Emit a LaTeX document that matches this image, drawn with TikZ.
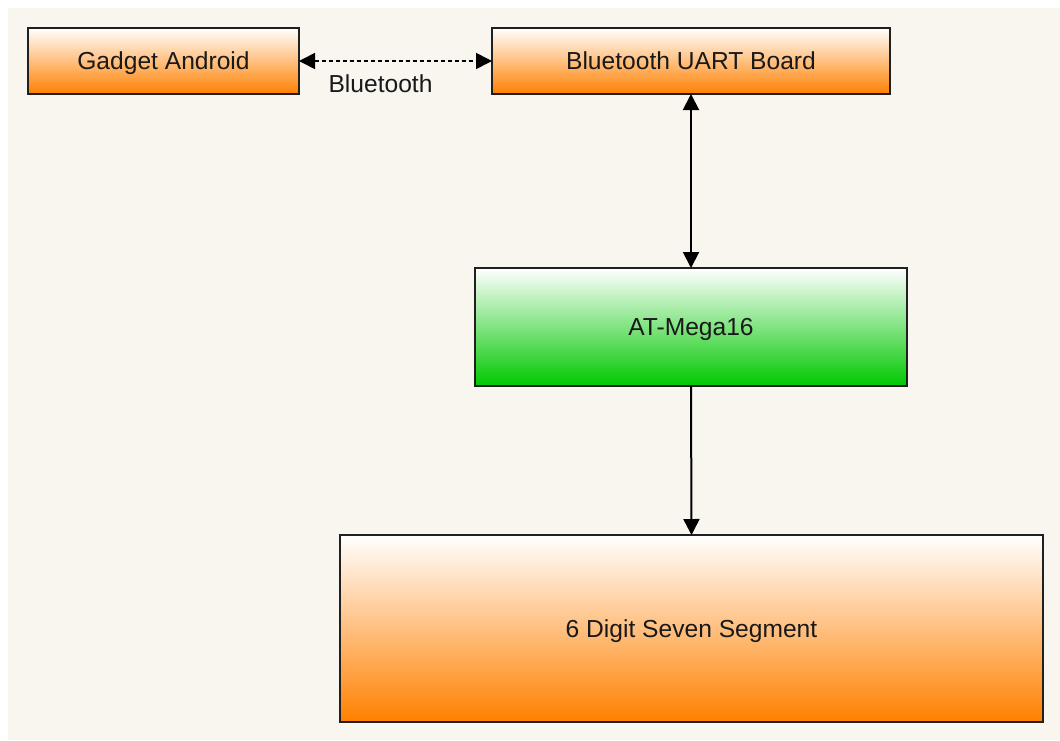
\documentclass[tikz,border=0pt]{standalone}
\usepackage{fontspec}
\setmainfont{Liberation Sans}
\usetikzlibrary{
arrows.meta,
positioning,
shapes
}
\definecolor{bgcream}{RGB}{249,246,240}
\definecolor{boxorange}{RGB}{255,128,0}
\definecolor{boxgreen}{RGB}{0,200,0}
\definecolor{boxline}{RGB}{32,32,32}
\tikzset{>={Triangle[width=8pt,length=8pt]}}
\tikzset{
	block/.style={draw=boxline,line width=1pt,inner sep=0,outer sep=0,text=black!90,
		text height=0.88em,text depth=0pt,font=\fontsize{12.3}{14}\selectfont},
	orangeblock/.style={block,top color=white,bottom color=boxorange},
	greenblock/.style={block,top color=white,bottom color=boxgreen}
}

\begin{document}
\begin{tikzpicture}[x=0.5pt,y=-0.5pt]
		\useasboundingbox (0,0) rectangle (1060,740);
		\fill[white] (0,0) rectangle (1060,740);
		\fill[bgcream] (8,8) rectangle (1060,740);

		\node[orangeblock,minimum width=135.5pt,minimum height=33pt] (android) at (163.5,61) {Gadget Android};
		\node[orangeblock,minimum width=199pt,minimum height=33pt] (btuart) at (691,61) {Bluetooth UART Board};
		\node[greenblock,minimum width=216pt,minimum height=59pt] (atmega) at (691,327) {AT-Mega16};
		\node[orangeblock,minimum width=351.5pt,minimum height=93.5pt] (segment) at (691.5,628.5) {6 Digit Seven Segment};

		% wireless link.
		\draw[<->,line width=0.8pt,dash pattern=on 2pt off 1.5pt] (android.east) -- (btuart.west)
			node[midway,below=3pt,xshift=-7.5pt,font=\fontsize{12.3}{14}\selectfont,text=black!90] (btlabel) {Bluetooth};

		\draw[<->,line width=1pt] (btuart.south) -- (atmega.north);
		\draw[->,line width=1pt] (atmega.south) -- (segment.north);
	\end{tikzpicture}
\end{document}
